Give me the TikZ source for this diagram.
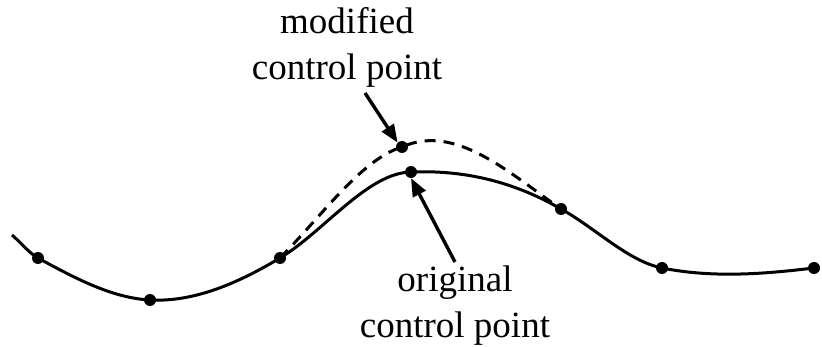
\documentclass[tikz,border=0pt]{standalone}
\usepackage{fontspec}
\setmainfont{Liberation Serif}
\usetikzlibrary{arrows.meta}
\begin{document}
\begin{tikzpicture}[x=1pt,y=-1pt,
  dot/.style={circle,fill=black,inner sep=0pt,minimum size=12pt},
  lbl/.style={align=center,font=\fontsize{37}{46}\selectfont,inner sep=0pt},
  arr/.style={line width=3.4pt,-{Triangle[length=18pt,width=14pt]}},
  curve/.style={line width=3pt}]
\useasboundingbox (0,0) rectangle (822,347);
\coordinate (s) at (12,235);
\node[dot] (p1) at (38,258) {};
\node[dot] (p2) at (150,300) {};
\node[dot] (p3) at (280,258) {};
\node[dot] (p4) at (411,172) {};
\node[dot] (m) at (402,147) {};
\node[dot] (p5) at (561,209) {};
\node[dot] (p6) at (662,268) {};
\node[dot] (p7) at (814,268) {};
\draw[curve] (s) .. controls (20.7,242.4) and (29.3,253.2) .. (p1.center)
  .. controls (75.3,278.5) and (112.7,298.1) .. (p2.center)
  .. controls (193.3,302.2) and (236.7,284) .. (p3.center)
  .. controls (323.7,231.8) and (367.3,172.9) .. (p4.center)
  .. controls (461,170) and (511,180) .. (p5.center)
  .. controls (594.7,227.5) and (628.3,261.3) .. (p6.center)
  .. controls (712.7,278.1) and (763.3,274.1) .. (p7.center);
\draw[curve,dash pattern=on 11pt off 8pt] (p3.center)
  .. controls (320.7,217.3) and (361.3,159.2) .. (m.center)
  .. controls (455,123) and (508,172) .. (p5.center);
\node[lbl] (tm) at (347,47) {modified\\control point};
\node[lbl] (to) at (455,306) {original\\control point};
\draw[arr] (365,93) -- (m.north west);
\draw[arr] (455,262) -- (p4.south);
\end{tikzpicture}
\end{document}
